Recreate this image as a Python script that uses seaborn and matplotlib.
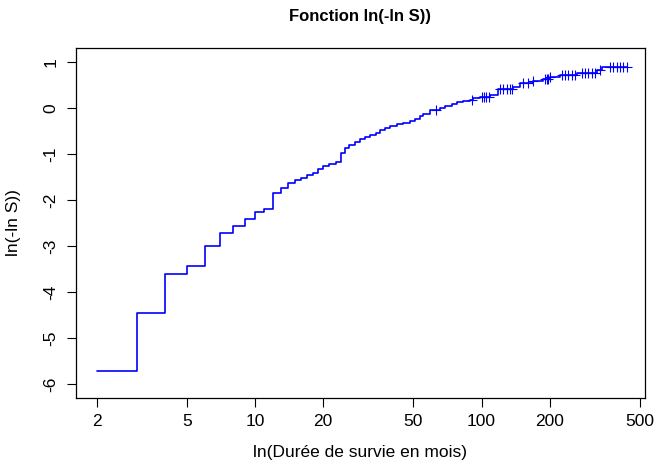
import numpy as np
import pandas as pd
import matplotlib
matplotlib.use("Agg")
import matplotlib.pyplot as plt
import seaborn as sns

# temps des sauts (mois) et valeur de ln(-ln S) a partir de ce temps
temps = [2, 3, 4, 5, 6, 7, 8, 9, 10, 11,
         12, 13, 14, 15, 16, 17, 18, 19, 20,
         21.3, 22.8, 24, 25, 26, 27.6, 29.1, 30.6, 32.2, 34.2,
         35.6, 37.5, 39.4, 42.2, 45.2, 48.3, 50.9, 53.5, 55.3, 59.2,
         65.6, 69, 73.8, 77.7, 83.1, 88.9, 92, 98.5, 109, 118,
         138, 148, 169, 187.5, 200, 222, 263, 322, 339]
lnln = [-5.71, -4.46, -3.61, -3.43, -3.00, -2.72, -2.56, -2.42, -2.26, -2.19,
        -1.84, -1.73, -1.63, -1.57, -1.52, -1.46, -1.41, -1.33, -1.26,
        -1.23, -1.17, -0.99, -0.88, -0.81, -0.735, -0.68, -0.64, -0.59, -0.55,
        -0.48, -0.43, -0.39, -0.35, -0.32, -0.29, -0.24, -0.18, -0.13, -0.05,
        -0.01, 0.04, 0.08, 0.12, 0.15, 0.17, 0.21, 0.24, 0.28, 0.40,
        0.46, 0.53, 0.59, 0.625, 0.66, 0.71, 0.75, 0.82, 0.89]
temps_max = 440

# observations censurees (+)
censures = [63, 90.5, 100, 103, 105, 108, 121, 125, 129, 134, 137, 153, 161, 169,
            191, 194, 197, 201, 226, 234, 242, 250, 259, 277, 286, 296, 306, 317,
            334, 369, 382, 395, 409, 423, 440]

xticks = [2, 5, 10, 20, 50, 100, 200, 500]
yticks = [-6, -5, -4, -3, -2, -1, 0, 1]

sns.set_style("ticks")
plt.rcParams['font.family'] = ['Liberation Sans', 'DejaVu Sans']
plt.rcParams['text.color'] = 'black'
plt.rcParams['axes.labelcolor'] = 'black'
plt.rcParams['xtick.color'] = 'black'
plt.rcParams['ytick.color'] = 'black'

courbe = pd.DataFrame({'t': temps + [temps_max], 'y': lnln + [lnln[-1]]})
idx = np.searchsorted(np.array(temps), np.array(censures), side='right') - 1
cens = pd.DataFrame({'t': censures, 'y': np.array(lnln)[idx]})

fig = plt.figure(figsize=(6.57, 4.67), dpi=100)
ax = fig.add_axes([0.1157, 0.1478, 0.866, 0.7494])

sns.lineplot(data=courbe, x='t', y='y', drawstyle='steps-post', color='blue',
             linewidth=1.2, estimator=None, ax=ax)
sns.scatterplot(data=cens, x='t', y='y', marker='+', s=55, color='blue',
                linewidth=0.8, ax=ax)

ax.set_xscale('log')
ax.set_xlim(1.62, 527)
ax.set_ylim(-6.295, 1.297)
ax.set_xticks(xticks)
ax.set_xticklabels([str(v) for v in xticks])
ax.minorticks_off()
ax.set_yticks(yticks)
ax.set_yticklabels([str(v) for v in yticks], rotation=90, va='center')
ax.tick_params(direction='out', length=6.2, width=0.8, labelsize=12.5)
ax.tick_params(axis='x', pad=5.5)
ax.tick_params(axis='y', pad=6.5)
for s in ax.spines.values():
    s.set_linewidth(0.9)
    s.set_color('black')

ax.set_xlabel('ln(Durée de survie en mois)', fontsize=12.5)
ax.xaxis.set_label_coords(0.5, -0.135)
ax.set_ylabel('ln(-ln S))', fontsize=12.5)
ax.yaxis.set_label_coords(-0.097, 0.5)
fig.text(0.1157 + 0.866 / 2, 1 - 17 / 467, 'Fonction ln(-ln S))', fontsize=12,
         fontweight='bold', ha='center', va='center')

fig.savefig('out.png', dpi=100)
